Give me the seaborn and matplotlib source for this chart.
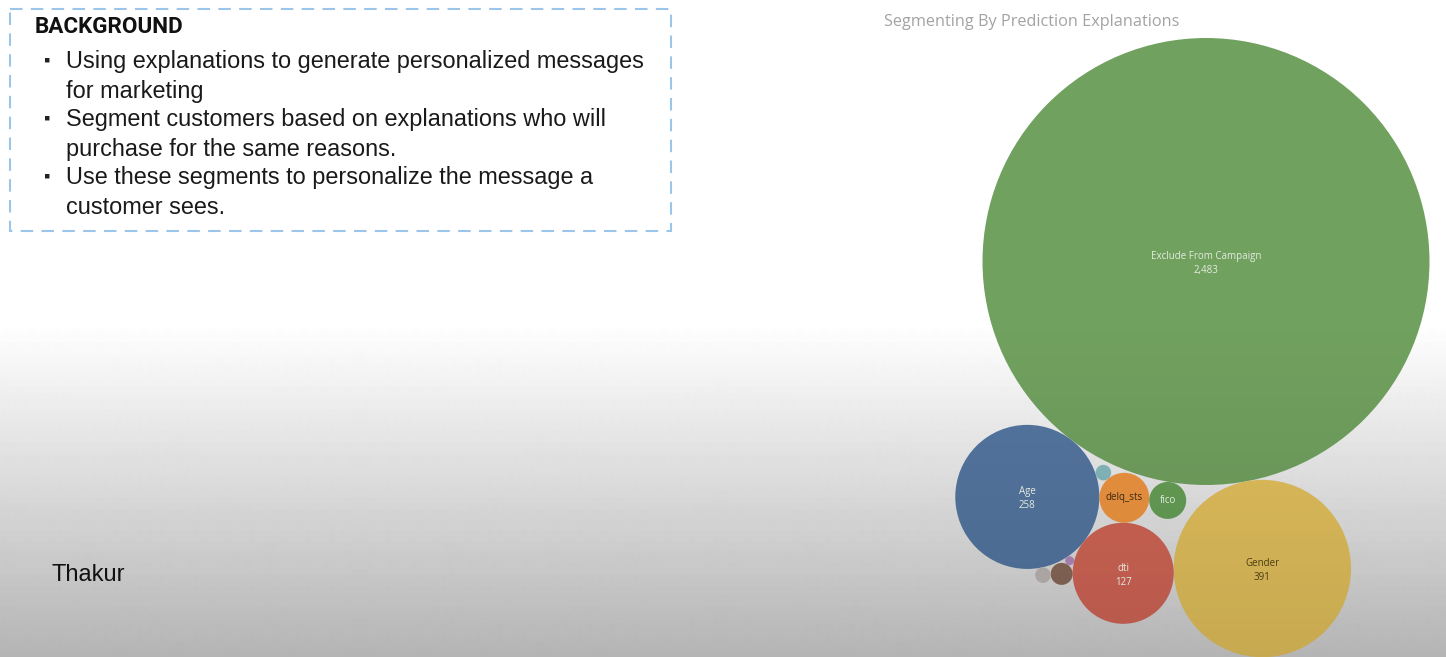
import numpy as np
import pandas as pd
import matplotlib
matplotlib.use("Agg")
import matplotlib.pyplot as plt
import seaborn as sns
from matplotlib.patches import Rectangle

# data: explanation segments and customer counts
segments = ["Exclude From Campaign", "Gender", "Age", "dti", "delq_sts", "fico",
            "other_1", "other_2", "other_3", "other_4"]
counts = [2483, 391, 258, 127, 31, 17, 3, 6, 3, 1]

bullets = [
    "Using explanations to generate personalized messages\nfor marketing",
    "Segment customers based on explanations who will\npurchase for the same reasons.",
    "Use these segments to personalize the message a\ncustomer sees.",
]

# styles
colors = {
    "Exclude From Campaign": "#71A15F", "Gender": "#E2C05C", "Age": "#5476A1",
    "dti": "#D06556", "delq_sts": "#EE9540", "fico": "#669F56",
    "other_1": "#85BAC0", "other_2": "#896858", "other_3": "#BBB5B3", "other_4": "#B288BE",
}
dark_text = {"Gender": "#4a3c14", "delq_sts": "#3d2a10"}

W, H, DPI = 1446, 657, 100
K = 4.485             # px of radius per sqrt(count)
CENTER = (1206, 261.5)  # where the largest bubble sits on the slide

# packing rules, applied in this order: either touch the big bubble at an
# angle, or touch two placed bubbles (pick the solution near/far from a
# reference bubble)
rules = {
    "Gender": ("angle", "Exclude From Campaign", 79.6),
    "Age": ("angle", "Exclude From Campaign", 127.2),
    "dti": ("pair", "Age", "Gender", "Exclude From Campaign", "far"),
    "delq_sts": ("pair", "Age", "dti", "Exclude From Campaign", "near"),
    "fico": ("pair", "Exclude From Campaign", "delq_sts", "Age", "far"),
    "other_1": ("pair", "Age", "delq_sts", "Exclude From Campaign", "near"),
    "other_4": ("pair", "Age", "dti", "Exclude From Campaign", "far"),
    "other_2": ("pair", "dti", "other_4", "Age", "far"),
    "other_3": ("pair", "other_2", "Age", "dti", "far"),
}


def touch(a, b, r, ref, far):
    (xa, ya, ra), (xb, yb, rb) = a, b
    da, db = ra + r, rb + r
    d = np.hypot(xb - xa, yb - ya)
    l = (da ** 2 - db ** 2 + d ** 2) / (2 * d)
    h = np.sqrt(max(da ** 2 - l ** 2, 0))
    ex, ey = (xb - xa) / d, (yb - ya) / d
    px, py = xa + l * ex, ya + l * ey
    cands = [(px - h * ey, py + h * ex), (px + h * ey, py - h * ex)]
    dist = [np.hypot(cx - ref[0], cy - ref[1]) for cx, cy in cands]
    return cands[int(np.argmax(dist))] if far else cands[int(np.argmin(dist))]


radius = {s: K * np.sqrt(v) for s, v in zip(segments, counts)}
placed = {segments[0]: (CENTER[0], CENTER[1], radius[segments[0]])}
for seg, rule in rules.items():
    if rule[0] == "angle":
        x0, y0, r0 = placed[rule[1]]
        ang = np.radians(rule[2])
        dd = r0 + radius[seg]
        placed[seg] = (x0 + dd * np.cos(ang), y0 + dd * np.sin(ang), radius[seg])
    else:
        _, a, b, ref, side = rule
        cx, cy = touch(placed[a], placed[b], radius[seg], placed[ref], side == "far")
        placed[seg] = (cx, cy, radius[seg])

df = pd.DataFrame({
    "segment": segments,
    "count": counts,
    "x": [placed[s][0] for s in segments],
    "y": [placed[s][1] for s in segments],
})

sns.set_theme(style="white")
plt.rcParams["font.family"] = ["Liberation Sans", "DejaVu Sans"]

fig = plt.figure(figsize=(W / DPI, H / DPI), dpi=DPI)
ax = fig.add_axes([0, 0, 1, 1])

# slide background: white top fading to grey at the bottom, plus a soft
# dark wash over everything (as in the recording)
rows = np.arange(H)
t = np.clip((rows - 320) / (H - 320), 0, 1)
wash = 0.12 * t
final = 255 - 75 * t
bg = np.clip(final / (1 - wash), 0, 255) / 255
ax.imshow(np.repeat(bg[:, None], 2, axis=1), cmap="gray", vmin=0, vmax=1,
          extent=(0, W, H, 0), aspect="auto", zorder=0, interpolation="bilinear")

# bubbles: marker area proportional to count
px2pt = 72 / DPI
cmax = max(counts)
smax = (2 * K * np.sqrt(cmax) * px2pt) ** 2
sns.scatterplot(data=df, x="x", y="y", hue="segment", palette=colors,
                size="count", sizes=(0, smax), size_norm=(0, cmax),
                linewidth=0, legend=False, ax=ax, zorder=2)

ov = np.zeros((H, 2, 4))
ov[..., 3] = wash[:, None]
ax.imshow(ov, extent=(0, W, H, 0), aspect="auto", zorder=3, interpolation="bilinear")
ax.set_xlim(0, W)
ax.set_ylim(H, 0)
ax.axis("off")

# bubble labels (only where they fit)
for s, v in zip(segments, counts):
    x, y, r = placed[s]
    col = dark_text.get(s, "#e4ebe0")
    if r > 40:
        ax.text(x, y - 5, s, ha="center", va="center", fontsize=7, color=col,
                family="Open Sans", zorder=4)
        ax.text(x, y + 9, f"{v:,}", ha="center", va="center", fontsize=7, color=col,
                family="Open Sans", zorder=4)
    elif r > 15:
        ax.text(x, y, s, ha="center", va="center", fontsize=7, color=col,
                family="Open Sans", zorder=4)

ax.text(884, 22, "Segmenting By Prediction Explanations", ha="left", va="center",
        fontsize=11.7, color="#a3a3a3", family="Open Sans", zorder=4)

# left text block
ax.add_patch(Rectangle((10, 9), 661, 222, fill=False, edgecolor="#9cc5ea",
                       linewidth=1.5, linestyle=(0, (6, 4)), zorder=4))
ax.text(35, 27, "BACKGROUND", ha="left", va="center", fontsize=16.2,
        fontweight="bold", family="Roboto", color="#111111", zorder=4)
line_y = 60
for b in bullets:
    ax.text(44, line_y + 1, "\u25aa", ha="left", va="center", fontsize=13,
            color="#222222", zorder=4)
    ax.text(66, line_y - 10, b, ha="left", va="top", fontsize=16.9,
            color="#1a1a1a", linespacing=1.37, zorder=4)
    line_y += 58

ax.text(52, 575, "Thakur", ha="left", va="center", fontsize=17,
        color="#111111", zorder=4)

fig.savefig("out.png", dpi=DPI)
